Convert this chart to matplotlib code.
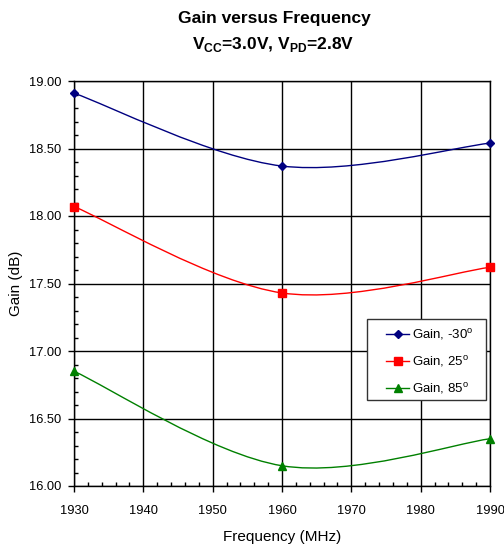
import matplotlib
matplotlib.use("Agg")
import matplotlib.pyplot as plt
from matplotlib.path import Path
from matplotlib.patches import PathPatch, Rectangle
from matplotlib.lines import Line2D
from matplotlib.ticker import MultipleLocator, FormatStrFormatter
import numpy as np

plt.rcParams['font.family'] = ['Liberation Sans', 'DejaVu Sans']
plt.rcParams['mathtext.fontset'] = 'custom'
plt.rcParams['mathtext.rm'] = 'Liberation Sans'
plt.rcParams['mathtext.bf'] = 'Liberation Sans:bold'

freq = [1930, 1960, 1990]
gain_m30 = [18.91, 18.37, 18.54]
gain_25 = [18.07, 17.43, 17.62]
gain_85 = [16.85, 16.15, 16.35]
labels = ['Gain, -30$^{\\mathrm{o}}$', 'Gain, 25$^{\\mathrm{o}}$', 'Gain, 85$^{\\mathrm{o}}$']
colors = ['#000080', '#FF0000', '#008000']
markers = ['D', 's', '^']
msizes = [4.5, 5.5, 6]

W, H = 504, 549
L, R, T, B = 74, 490, 81, 486

fig = plt.figure(figsize=(W/100, H/100), dpi=100)
ax = fig.add_axes([L/W, 1 - B/H, (R-L)/W, (B-T)/H])

def ax_x(px):
    return (px - L) / (R - L)

def ax_y(py):
    return (B - py) / (B - T)

def smooth_path(x, y):
    pts = np.column_stack([x, y]).astype(float)
    n = len(pts)
    verts = [pts[0]]
    codes = [Path.MOVETO]
    for i in range(n - 1):
        p_prev = pts[i - 1] if i > 0 else pts[i]
        p0 = pts[i]
        p1 = pts[i + 1]
        p_next = pts[i + 2] if i + 2 < n else pts[i + 1]
        c1 = p0 + (p1 - p_prev) / 6.0
        c2 = p1 - (p_next - p0) / 6.0
        verts += [c1, c2, p1]
        codes += [Path.CURVE4] * 3
    return Path(verts, codes)

handles = []
for ys, c, m, ms, lab in zip([gain_m30, gain_25, gain_85], colors, markers, msizes, labels):
    ax.add_patch(PathPatch(smooth_path(freq, ys), facecolor='none', edgecolor=c, lw=1.0, zorder=3))
    ax.plot(freq, ys, linestyle='none', marker=m, color=c, markersize=ms, zorder=4, clip_on=False)
    handles.append(Line2D([], [], color=c, lw=1.0, marker=m, markersize=ms, label=lab))

ax.set_xlim(1930, 1990)
ax.set_ylim(16.0, 19.0)
ax.xaxis.set_major_locator(MultipleLocator(10))
ax.xaxis.set_minor_locator(MultipleLocator(2))
ax.yaxis.set_major_locator(MultipleLocator(0.5))
ax.yaxis.set_minor_locator(MultipleLocator(0.1))
ax.yaxis.set_major_formatter(FormatStrFormatter('%.2f'))
ax.grid(True, which='major', color='black', lw=1.0)
ax.set_axisbelow(True)
ax.tick_params(which='major', direction='out', length=4, width=1, labelsize=9.3, pad=5)
ax.tick_params(axis='x', which='major', pad=9.5)
ax.tick_params(which='minor', direction='in', length=3, width=1)
for s in ax.spines.values():
    s.set_color('black')
    s.set_linewidth(1.0)

ax.set_xlabel('Frequency (MHz)', fontsize=11, va='center')
ax.set_ylabel('Gain (dB)', fontsize=11, va='center')
ax.xaxis.set_label_coords(ax_x(282), ax_y(537))
ax.yaxis.set_label_coords(ax_x(16), 0.5)

fig.text(274/W, 1 - 19/H, 'Gain versus Frequency', ha='center', va='center', fontsize=12.5, fontweight='bold')
fig.text(273/W, 1 - 45/H, r'V$_{\mathbf{CC}}$=3.0V, V$_{\mathbf{PD}}$=2.8V', ha='center', va='center', fontsize=12.5, fontweight='bold')

# legend frame (as in the reference)
ax.add_patch(Rectangle((ax_x(367), ax_y(400)), ax_x(486) - ax_x(367), ax_y(319) - ax_y(400),
                       transform=ax.transAxes, facecolor='white', edgecolor='#333333', lw=1.0, zorder=6))
leg = ax.legend(handles=handles, loc='upper left', bbox_to_anchor=(ax_x(386), ax_y(327)),
                fontsize=9.5, frameon=False,
                handlelength=1.75, labelspacing=0.92, borderpad=0, handletextpad=0.25,
                borderaxespad=0)
leg.set_zorder(7)

fig.savefig('out.png', dpi=100)
